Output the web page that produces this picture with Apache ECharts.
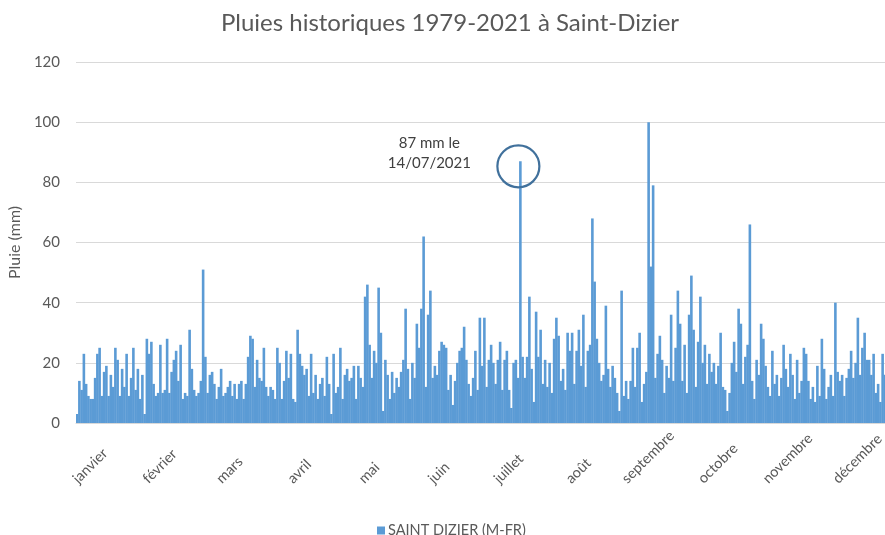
<!DOCTYPE html>
<html>
<head>
<meta charset="utf-8">
<script src="https://cdn.jsdelivr.net/npm/echarts@6/dist/echarts.min.js"></script>
<style>html,body{margin:0;padding:0;background:#fff}#c{width:885px;height:535px}</style>
</head>
<body>
<div id="c"></div>
<script>
// ---- data ----
var monthNames = ['janvier','février','mars','avril','mai','juin','juillet','août','septembre','octobre','novembre','décembre'];
var monthLengths = [31,29,31,30,31,30,31,31,30,31,30,31];
var yTicks = [0,20,40,60,80,100,120];
var seriesName = 'SAINT DIZIER (M-FR)';
var titleText = 'Pluies historiques 1979-2021 à Saint-Dizier';
var annotationText = '87 mm le\n14/07/2021';
var annotationIndex = 197;
var annotationValue = 87;
// maximum daily rainfall (mm) per day of year
var rain = [
 3,14,11,23,13,9,8,8,15,23, 25,9,17,19,9,16,12,25,21,9,
 18,12,23,9,15,25,11,18,8,16, 3,28,23,27,13,9,10,26,10,11,
 28,10,17,21,24,14,26,8,10,9, 31,18,11,9,10,14,51,22,10,16,
 17,13,8,12,18,9,10,12,14,9, 13,8,13,14,8,13,22,29,28,12,
 21,15,14,25,12,9,12,11,8,25, 20,8,14,24,15,23,8,7,31,23,
 19,16,18,9,23,10,16,8,13,15, 9,22,13,3,23,10,12,25,8,16,
 18,14,15,19,8,19,15,12,42,46, 26,15,24,20,45,30,4,21,16,8,
 17,10,15,12,17,21,38,18,8,20, 15,33,25,38,62,12,36,44,15,19,
 16,24,27,26,25,11,16,6,14,20, 24,25,32,21,13,9,15,24,11,35,
 19,35,12,21,26,20,13,21,27,11, 21,24,11,5,20,21,15,87,22,15,
 22,42,18,7,37,22,31,13,21,12, 20,10,28,35,29,14,18,11,30,24,
 30,13,24,31,19,36,12,24,26,68, 47,28,20,14,16,39,18,12,19,15,
 10,4,44,9,14,8,14,25,12,25, 30,7,13,17,100,52,79,15,23,29,
 21,10,19,15,36,14,25,44,33,14, 26,10,36,49,31,12,27,42,20,26,
 13,23,17,20,13,19,30,12,11,4, 10,20,27,17,38,33,13,22,26,66,
 14,8,21,16,33,28,19,12,9,24, 13,16,9,15,26,18,12,23,16,8,
 21,10,14,25,23,14,8,12,7,19, 9,28,18,8,12,16,9,40,17,14,
 16,9,15,18,24,15,20,35,16,25, 30,21,21,16,23,10,13,7,23,16,
 12,18,14,20,11,9
];
// categories: days of a leap year
var days = [];
for (var m = 0; m < 12; m++) {
  for (var d = 1; d <= monthLengths[m]; d++) {
    days.push((d < 10 ? '0' : '') + d + '/' + (m < 9 ? '0' : '') + (m + 1));
  }
}

var FONT = 'Lato';
var LABEL_SIZE = 14.5, LABEL_LH = 17;
// per-label rich styles: centre each rotated label 14px right of its tick, bottoms aligned
var ctx = document.createElement('canvas').getContext('2d');
ctx.font = LABEL_SIZE + 'px ' + FONT;
var LABEL_MARGIN = 30, BOTTOM = 487 - 423 - LABEL_MARGIN, C45 = Math.SQRT1_2;
var rich = {};
monthNames.forEach(function (name, i) {
  var w = ctx.measureText(name).width;
  var half = C45 * (w + LABEL_LH) / 2;
  var sum = 13 / C45;                       // a + s
  var diff = (BOTTOM - half) / C45;         // s - a
  var s = (sum + diff) / 2, a = (sum - diff) / 2;
  rich['m' + i] = {
    fontFamily: FONT, fontSize: LABEL_SIZE, lineHeight: LABEL_LH, color: '#595959',
    padding: [Math.max(2 * s, 0), Math.max(-2 * a, 0), Math.max(-2 * s, 0), Math.max(2 * a, 0)]
  };
});

var chart = echarts.init(document.getElementById('c'), null, {renderer: 'canvas'});
chart.setOption({
  animation: false,
  backgroundColor: '#ffffff',
  title: {
    text: titleText,
    left: 445, top: 6, textAlign: 'center',
    textStyle: {fontFamily: FONT, fontSize: 24, fontWeight: 'normal', color: '#595959'}
  },
  legend: {
    data: [seriesName],
    left: 372, top: 518,
    icon: 'rect', itemWidth: 8, itemHeight: 8, itemGap: 4,
    textStyle: {fontFamily: FONT, fontSize: 14.5, color: '#595959', padding: [0,0,0,-2]}
  },
  grid: {left: 76, top: 62, width: 823.5, height: 361, containLabel: false, outerBoundsMode: 'none'},
  xAxis: {
    type: 'category',
    data: days,
    boundaryGap: true,
    axisLine: {show: true, lineStyle: {color: '#d9d9d9', width: 1}},
    axisTick: {show: false},
    axisLabel: {
      interval: 30,
      rotate: 45,
      align: 'center',
      verticalAlign: 'middle',
      margin: LABEL_MARGIN,
      fontFamily: FONT, fontSize: LABEL_SIZE, color: '#595959',
      formatter: function (v) {
        var mi = parseInt(v.slice(3), 10) - 1;
        return '{m' + mi + '|' + monthNames[mi] + '}';
      },
      rich: rich
    },
    splitLine: {show: false}
  },
  yAxis: {
    type: 'value',
    min: yTicks[0], max: yTicks[yTicks.length - 1], interval: yTicks[1] - yTicks[0],
    name: 'Pluie (mm)', nameLocation: 'middle', nameRotate: 90, nameGap: 43,
    nameTextStyle: {fontFamily: FONT, fontSize: 16, color: '#595959'},
    axisLine: {show: false}, axisTick: {show: false},
    axisLabel: {margin: 16, fontFamily: FONT, fontSize: 15, color: '#595959'},
    splitLine: {lineStyle: {color: '#d9d9d9', width: 1}}
  },
  series: [{
    name: seriesName,
    type: 'bar',
    data: rain,
    barWidth: 2.6,
    itemStyle: {color: '#5b9bd5'},
    markPoint: {
      silent: true,
      data: [
        {coord: [annotationIndex, annotationValue], symbol: 'circle', symbolSize: 42, symbolOffset: [-2, 5],
         itemStyle: {color: 'rgba(0,0,0,0)', borderColor: '#41719c', borderWidth: 2.2},
         label: {show: false}},
        {coord: [annotationIndex, annotationValue], symbol: 'circle', symbolSize: 1,
         itemStyle: {color: 'rgba(0,0,0,0)'},
         label: {show: true, position: 'inside', offset: [-91, -8], formatter: annotationText,
                 fontFamily: FONT, fontSize: 15, lineHeight: 20, color: '#404040', align: 'center'}}
      ]
    }
  }]
});
</script>
</body>
</html>
